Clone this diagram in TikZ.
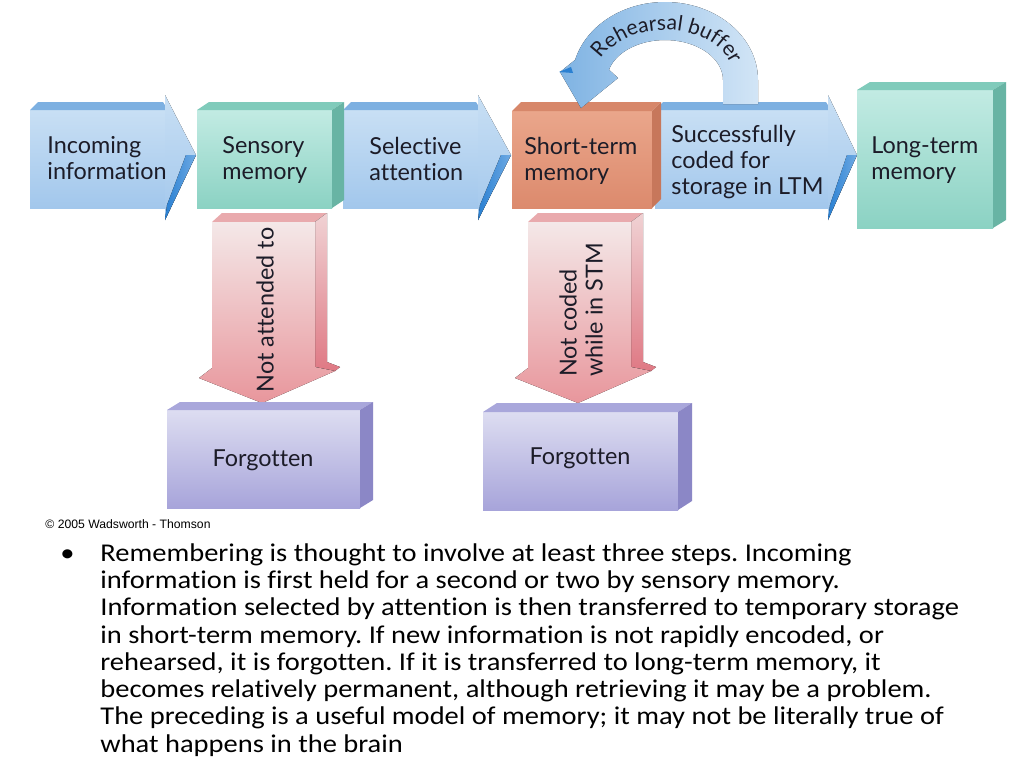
\documentclass[tikz,border=0pt]{standalone}
\usepackage{fontspec}
\setmainfont[Ligatures=NoCommon, FakeStretch=1.113]{Carlito}
\newfontfamily\diagfont[Ligatures=NoCommon]{Lato}
\newfontfamily\arialfont{Liberation Sans}
\usetikzlibrary{decorations.text}
\definecolor{txt}{HTML}{1C1C28}
\definecolor{blA}{HTML}{C8DFF4}
\definecolor{blB}{HTML}{A2C7EC}
\definecolor{blTop}{HTML}{7DB0E1}
\definecolor{blDarkA}{HTML}{6FAAE3}
\definecolor{blDarkB}{HTML}{2A80D2}
\definecolor{tlA}{HTML}{C2EBE3}
\definecolor{tlB}{HTML}{8BD2C3}
\definecolor{tlTop}{HTML}{80CBBB}
\definecolor{tlSide}{HTML}{68B4A4}
\definecolor{saA}{HTML}{EAA68B}
\definecolor{saB}{HTML}{DC8A6D}
\definecolor{saTop}{HTML}{D7876A}
\definecolor{saSide}{HTML}{C7775B}
\definecolor{pkA}{HTML}{F4E8E8}
\definecolor{pkB}{HTML}{E8969C}
\definecolor{pkTop}{HTML}{E9AAAD}
\definecolor{pkSideA}{HTML}{F0D2D4}
\definecolor{pkSideB}{HTML}{DF7984}
\definecolor{puA}{HTML}{DDDDF1}
\definecolor{puB}{HTML}{A7A4DA}
\definecolor{puTop}{HTML}{A9A7DB}
\definecolor{puSide}{HTML}{8B87C6}
\definecolor{rbA}{HTML}{7FB3E3}
\definecolor{rbB}{HTML}{D2E5F6}
\tikzset{
  bluebody/.style={top color=blA, bottom color=blB},
  bluetop/.style={fill=blTop},
  bluehead/.style={top color=blA, bottom color=blB},
  bluedark/.style={left color=blDarkB, right color=blDarkA},
  tealfront/.style={top color=tlA, bottom color=tlB},
  tealtop/.style={fill=tlTop},
  tealside/.style={fill=tlSide},
  salmonfront/.style={top color=saA, bottom color=saB},
  salmontop/.style={fill=saTop},
  salmonside/.style={fill=saSide},
  purplefront/.style={top color=puA, bottom color=puB},
  purpletop/.style={fill=puTop},
  purpleside/.style={fill=puSide},
  pinkfront/.style={top color=pkA, bottom color=pkB},
  pinktop/.style={fill=pkTop},
  pinkside/.style={top color=pkSideA, bottom color=pkSideB},
  rehband/.style={left color=rbA, right color=rbB},
  lbl/.style={font=\diagfont\fontsize{11.7}{13}\selectfont, align=left, inner sep=0pt, text=txt},
  bodytext/.style={font=\frenchspacing\fontsize{12.8}{13.64}\selectfont, align=left, inner sep=0pt, text=black}
}
% cube: x1 y1 x2 y2 dx dy style-prefix
\newcommand{\cubeShape}[7]{%
  \fill[#7front] (#1,#2) rectangle (#3,#4);
  \fill[#7top] (#1,#2) -- (#1+#5,#2-#6) -- (#3+#5,#2-#6) -- (#3,#2) -- cycle;
  \fill[#7side] (#3,#2) -- (#3+#5,#2-#6) -- (#3+#5,#4-#6) -- (#3,#4) -- cycle;}
% blue arrow: x-left, x-head, x-tip
\newcommand{\blueArrow}[3]{%
  \fill[bluebody] (#1,110) rectangle (#2+1,208);
  \fill[bluetop] (#1,110) -- (#1+8,102) -- (#2-2,102) -- (#2+3,110) -- cycle;
  \fill[bluehead] (#2,95) -- (#3,155) -- (#2,220) -- cycle;
  \fill[bluedark] (#3,155) -- (#2,220) -- (#2+2,205) -- (#3-10,155) -- cycle;}
% pink down arrow, shifted by #1
\newcommand{\pinkArrow}[1]{%
  \begin{scope}[shift={(#1,0)}]
  \fill[pinktop] (212,222) -- (222,213) -- (327,213) -- (315,222) -- cycle;
  \fill[pinkside] (315,222) -- (327,213) -- (327,362) -- (340,367) -- (335,371) -- (315,367) -- cycle;
  \fill[pinkfront] (212,222) -- (315,222) -- (315,367) -- (335,371) -- (262,403) -- (199,378) -- (212,368) -- cycle;
  \end{scope}}
\begin{document}
\begin{tikzpicture}[x=0.5pt,y=-0.5pt]
\useasboundingbox (0,0) rectangle (1024,768);
\fill[white] (0,0) rectangle (1024,768);

% horizontal flow arrows
\blueArrow{30}{165}{196}
\blueArrow{343}{478}{511}
\blueArrow{655}{828}{857}

% boxes
\cubeShape{197}{110}{332}{208}{12}{8}{teal}
\cubeShape{512}{111}{652}{208}{9}{9}{salmon}
\cubeShape{857}{90}{993}{228}{13}{8}{teal}

% rehearsal buffer loop
\fill[rehband] (758,104) -- (758,80)
  arc[start angle=0, end angle=-165, x radius=93, y radius=78]
  -- (560,72) -- (581,108) -- (618,78)
  -- ({665+58*cos(-165)},{80+40*sin(-165)})
  arc[start angle=-165, end angle=0, x radius=58, y radius=40]
  -- (723,104) -- cycle;
\fill[blDarkB] (559,72) -- (571,67) -- (573,73) -- cycle;
\path[decorate, decoration={text along path, text align=center,
  text={|\diagfont\fontsize{10.5}{12}\selectfont\color{txt}|Rehearsal buffer}}]
  ({665+70*cos(-170)},{80+50*sin(-170)})
  arc[start angle=-170, end angle=-3, x radius=70, y radius=50];

% downward arrows
\pinkArrow{0}
\pinkArrow{316}

% forgotten boxes
\cubeShape{167}{410}{360}{508}{13}{8}{purple}
\cubeShape{483}{412}{678}{510}{14}{9}{purple}

% labels
\node[lbl, anchor=west] (inc) at (47,158.5) {Incoming\\information};
\node[lbl, anchor=west] (sen) at (222,160.5) {Sensory\\memory};
\node[lbl, anchor=west] (sel) at (369,158.5) {Selective\\attention};
\node[lbl, anchor=west] (stm) at (524,160.5) {Short-term\\memory};
\node[lbl, anchor=west] (suc) at (671,162) {Successfully\\coded for\\storage in LTM};
\node[lbl, anchor=west] (ltm) at (871,160) {Long-term\\memory};
\node[lbl, rotate=90] (nat) at (265,310) {Not attended to};
\node[lbl, rotate=90] (ncs) at (581,310) {Not coded\\while in STM};
\node[lbl] (fg1) at (263,460) {Forgotten};
\node[lbl] (fg2) at (580,458) {Forgotten};

\node[font=\arialfont\fontsize{6.1}{7}\selectfont, anchor=west, inner sep=0pt, text=black] (copy) at (45,524) {© 2005 Wadsworth - Thomson};

\node[bodytext, anchor=base west] (bul) at (60,561) {•};
\node[bodytext, anchor=north west] (para) at (100,543) {Remembering is thought to involve at least three steps. Incoming\\
information is first held for a second or two by sensory memory.\\
Information selected by attention is then transferred to temporary storage\\
in short-term memory. If new information is not rapidly encoded, or\\
rehearsed, it is forgotten. If it is transferred to long-term memory, it\\
becomes relatively permanent, although retrieving it may be a problem.\\
The preceding is a useful model of memory; it may not be literally true of\\
what happens in the brain};
\end{tikzpicture}
\end{document}
